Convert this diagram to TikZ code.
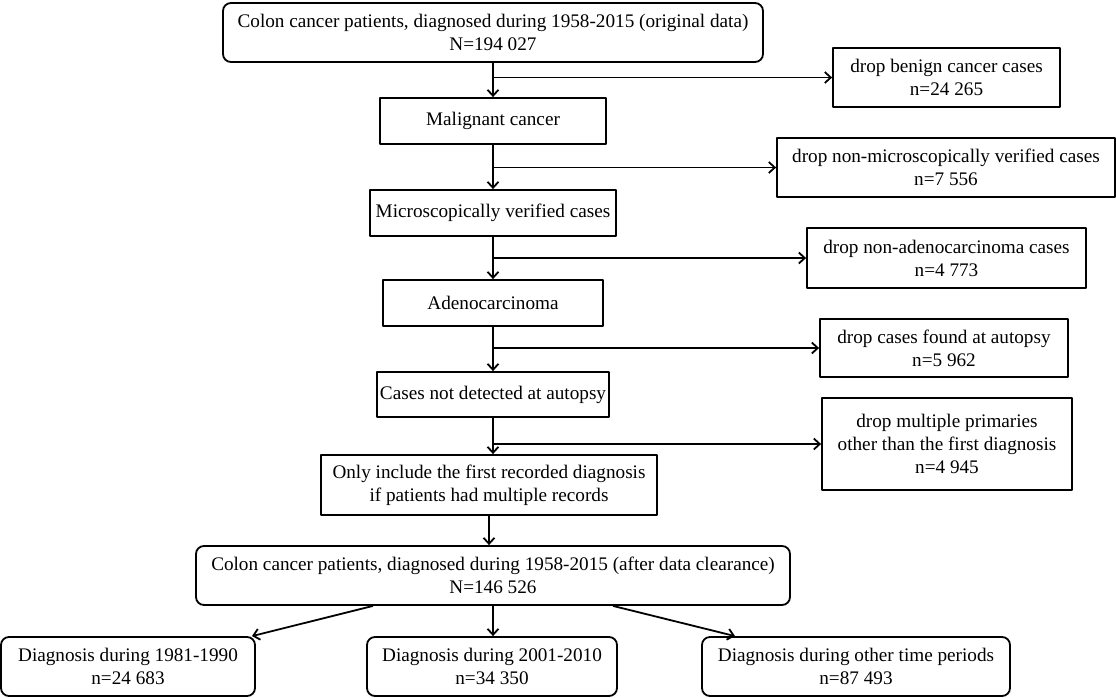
\documentclass[tikz,border=0pt]{standalone}
\usepackage{fontspec}
\setmainfont{Liberation Serif}
\usetikzlibrary{arrows.meta}
\tikzset{
	box/.style={draw,line width=1.8pt,align=center,inner sep=0pt,font=\fontsize{19.2}{23}\selectfont},
	rbox/.style={box,rounded corners=8pt},
	flow/.style={line width=1.8pt,-{Straight Barb[length=6pt,width=11pt]}}
}
\begin{document}
\begin{tikzpicture}[x=1pt,y=-1pt,line join=round]
	\useasboundingbox (0,0) rectangle (1116,697);
	%==Các hộp chính
	\node[rbox,minimum width=540,minimum height=59] (top) at (493,32.5) {Colon cancer patients, diagnosed during 1958-2015 (original data)\\N=194 027};
	\node[box,minimum width=226,minimum height=46] (malig) at (493,121) {Malignant cancer};
	\node[box,minimum width=246,minimum height=46] (micro) at (493,213) {Microscopically verified cases};
	\node[box,minimum width=220,minimum height=46] (adeno) at (493,303) {Adenocarcinoma};
	\node[box,minimum width=232,minimum height=45] (autop) at (493,394.5) {Cases not detected at autopsy};
	\node[box,minimum width=336,minimum height=60] (first) at (489,485) {Only include the first recorded diagnosis\\if patients had multiple records};
	\node[rbox,minimum width=594,minimum height=59] (clean) at (493,575.5) {Colon cancer patients, diagnosed during 1958-2015 (after data clearance)\\N=146 526};
	%==Các hộp loại bỏ
	\node[box,minimum width=227,minimum height=59] (d1) at (946.5,77.5) {drop benign cancer cases\\n=24 265};
	\node[box,minimum width=338,minimum height=59] (d2) at (946,167.5) {drop non-microscopically verified cases\\n=7 556};
	\node[box,minimum width=279,minimum height=60] (d3) at (946.5,258) {drop non-adenocarcinoma cases\\n=4 773};
	\node[box,minimum width=248,minimum height=58] (d4) at (944,348) {drop cases found at autopsy\\n=5 962};
	\node[box,minimum width=250,minimum height=92] (d5) at (947,444) {drop multiple primaries\\other than the first diagnosis\\n=4 945};
	%==Các giai đoạn chẩn đoán
	\node[rbox,minimum width=254,minimum height=59] (p1) at (128,666.5) {Diagnosis during 1981-1990\\n=24 683};
	\node[rbox,minimum width=250,minimum height=59] (p2) at (492,666.5) {Diagnosis during 2001-2010\\n=34 350};
	\node[rbox,minimum width=308,minimum height=59] (p3) at (856,666.5) {Diagnosis during other time periods\\n=87 493};
	%==Mũi tên
	\foreach \u/\v in {top/malig,malig/micro,micro/adeno,adeno/autop,autop/first,first/clean}
		\draw[flow] (\u.south)--(\u.south |- \v.north);
	\foreach \u/\d in {top/d1,malig/d2,micro/d3,adeno/d4,autop/d5}
		\draw[flow] (\u.south |- \d)--(\d);
	\draw[flow] ([xshift=-120pt]clean.south)--([xshift=124pt]p1.north);
	\draw[flow] (clean.south)--(clean.south |- p2.north);
	\draw[flow] ([xshift=120pt]clean.south)--([xshift=-121pt]p3.north);
\end{tikzpicture}
\end{document}
